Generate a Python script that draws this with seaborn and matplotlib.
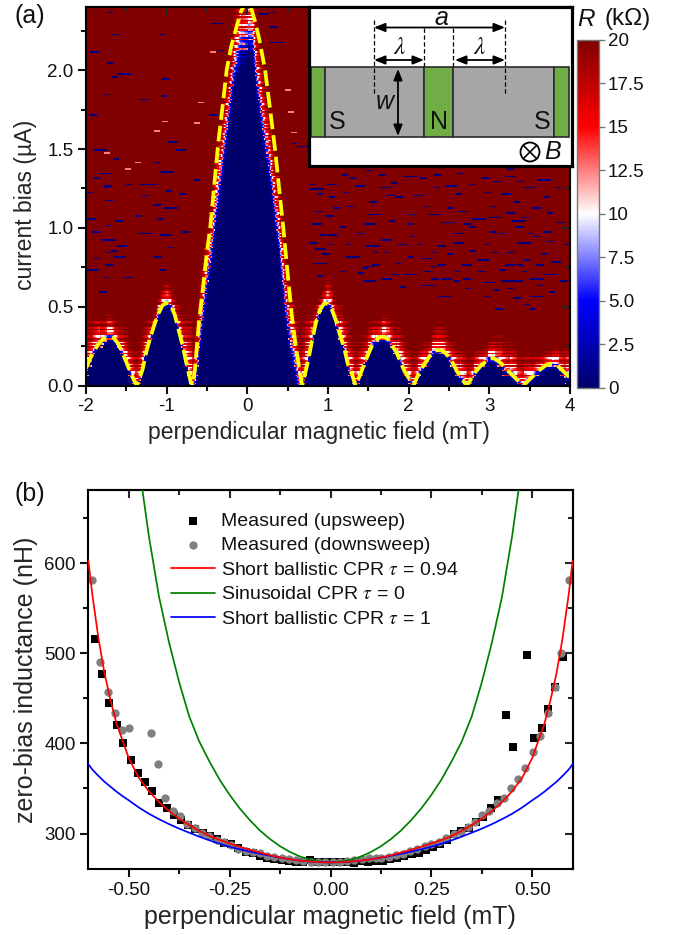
import numpy as np
import pandas as pd
import matplotlib
matplotlib.use("Agg")
import matplotlib.pyplot as plt
from matplotlib.colors import LinearSegmentedColormap
from matplotlib.patches import Rectangle, Circle
from matplotlib.ticker import MultipleLocator
import seaborn as sns

# ---------- panel (a): values ----------
fit_field = [-2.00,-1.95,-1.90,-1.85,-1.80,-1.75,-1.70,-1.65,-1.60,-1.55,-1.50,-1.45,-1.40,-1.37,
             -1.30,-1.25,-1.20,-1.15,-1.10,-1.05,-1.00,-.95,-.90,-.85,-.80,-.75,-.70,-.68,
             -.65,-.60,-.55,-.50,-.46,-.36,-.30,-.256,-.20,-.13,-.08,-.03,.02,.054,.10,.15,.22,.28,.343,.40,.446,.49,.55,.60,.66,.68,
             .75,.80,.85,.90,.95,1.00,1.05,1.10,1.15,1.20,1.25,1.30,1.34,
             1.40,1.45,1.50,1.55,1.60,1.65,1.70,1.75,1.80,1.85,1.90,1.95,2.00,2.06,
             2.10,2.15,2.20,2.25,2.30,2.35,2.40,2.45,2.50,2.55,2.60,2.65,2.72,
             2.76,2.80,2.90,2.95,3.00,3.05,3.10,3.15,3.20,3.30,3.42,
             3.50,3.60,3.70,3.75,3.85,3.95,4.00]
fit_current = [.11,.17,.22,.26,.29,.305,.31,.30,.265,.21,.15,.085,.03,.0,
               .10,.22,.31,.39,.46,.51,.525,.51,.45,.35,.25,.13,.02,.0,
               .10,.40,.62,.85,1.0,1.54,1.80,2.0,2.15,2.28,2.37,2.42,2.44,2.38,2.30,2.19,2.0,1.76,1.5,1.22,1.0,.76,.45,.25,.06,.0,
               .15,.28,.40,.48,.52,.52,.48,.41,.32,.24,.13,.07,.0,
               .07,.14,.20,.26,.29,.31,.31,.29,.25,.21,.15,.09,.05,.0,
               .05,.10,.14,.18,.21,.225,.225,.21,.18,.14,.09,.05,.0,
               .03,.07,.13,.15,.17,.175,.16,.14,.11,.06,.0,
               .04,.09,.13,.14,.125,.075,.05]

core_field = [-.68,-.60,-.50,-.42,-.30,-.18,-.07,.0,.07,.12,.26,.38,.43,.55,.66]
core_current = [0,.30,.73,1.0,1.5,2.0,2.24,2.28,2.24,2.0,1.5,1.0,.73,.30,0]

band_field = [-2,-1.7,-1.38,-1,-.75,.75,1,1.34,1.7,2.06,2.4,2.72,3.15,3.45,4]
band_current = [.38,.47,.22,.67,.40,.40,.68,.25,.47,.20,.38,.18,.32,.17,.27]

fleck_field = [.90,1.05,1.31,1.56,1.58,1.05,.88,1.11,1.71,1.81,1.87,2.12,2.22,2.31,2.35,2.35,2.62,2.68,2.99,3.11,
               3.07,3.05,3.44,3.71,3.50,3.26,2.74,2.62,3.05,3.42,2.97,2.41,2.31,1.93,2.04,1.73,1.56,1.73,1.60,1.86,
               2.22,2.31,2.22,1.73,2.74,2.45,2.60,2.91,3.17,3.26,3.07,3.26,3.59,3.52,3.13,3.26,3.01,3.46,3.71,3.87,
               3.59,3.75,3.63,1.27,.94,1.05,1.02,.98,.90,.90,1.41,1.41,1.52,1.25,.81,.86,2.02,2.49,2.80,3.38,
               3.67,2.72,2.51,2.41,2.02,2.60,2.33,3.09,3.34,3.42,3.63,3.83,
               .81,.86,1.21,1.52,1.67,1.40,1.23,1.77,2.02,2.18,2.47,2.64,2.53,2.80,2.95,3.26,3.38,3.67,3.85,3.21,
               3.34,3.59,3.75,3.26,2.88,2.51,2.04,1.79,1.52,1.19,1.02,.90,1.60,1.31,1.46,1.83,2.14,2.62,2.80,3.15,
               3.36,3.50,3.75,3.96,2.92,3.38,2.72,2.47,1.93,2.24,2.97,3.34,3.46,3.21,3.77,3.92,3.59,2.02,1.52,1.19,
               -1.75,-1.75,-1.71,-1.94,-1.73,-1.71,-1.73,-1.71,-1.46,-1.17,-.97,-1.13,-.95,-1.34,-1.59,-1.09,-1.01,-.95,-1.11,-1.55,
               -1.88,-1.92,-1.75,-1.79,-1.05,-1.48,-.80,-.76,-1.26,-1.86,-1.96,-1.65,-1.57,-1.26,-1.88,
               -1.89,-1.70,-1.52,-1.64,-1.02,-1.04,-1.27,-1.74,-1.91,-1.83,-1.70,-1.62,-1.06,-.38,-.32,-.42,-.92,-1.12,-1.0,-1.62,-1.72,-1.29,-.83,-.63,.32,.36,.30,.2,.57,.69]
fleck_current = [1.21,1.27,1.31,1.16,1.08,1.19,1.10,1.12,1.25,1.28,1.19,1.20,1.13,1.08,1.25,1.33,1.21,1.10,1.22,1.29,
                 1.06,1.13,1.06,1.19,1.25,1.37,1.02,.96,.97,.90,.89,.88,.84,.89,.94,.92,.88,.84,.76,.77,
                 .80,.75,.72,.67,.61,.56,.66,.72,.73,.76,.84,.84,.56,.48,.48,.61,.65,.79,.97,1.03,
                 .94,.70,.63,1.13,.95,.95,.89,.83,.77,.69,.96,.71,.66,.89,.90,1.02,1.02,1.03,1.00,1.00,
                 .83,.76,.83,.76,.70,.72,.67,.60,.66,.72,.76,.78,
                 1.27,1.24,1.33,1.36,1.33,1.26,1.22,1.20,1.32,1.31,1.38,1.34,1.26,1.27,1.31,1.32,1.29,1.30,1.25,1.21,
                 1.16,1.12,1.09,1.09,1.05,1.12,1.08,1.04,1.02,1.00,1.07,.86,.84,.81,.74,.70,.89,.90,.85,.96,
                 1.04,.96,.91,.89,.79,.76,.67,.67,.62,.63,.56,.55,.51,.66,.59,.66,.67,.81,.75,.72,
                 1.34,1.25,1.17,1.05,1.01,.92,.84,.76,1.27,1.27,1.23,1.14,1.12,1.07,1.04,1.05,.95,.87,.81,.88,
                 .80,.73,.68,.59,.73,.68,1.21,.97,.96,1.31,1.22,.85,.81,1.20,.97,
                 2.11,2.04,1.97,1.95,1.94,1.83,1.81,1.84,1.71,1.49,2.36,2.22,2.22,2.29,2.12,1.71,1.54,1.41,1.35,1.43,1.26,1.27,1.49,1.30,2.27,2.17,2.36,2.35,1.53,1.51]
fleck_halfwidth = [3,5,3,4,7,3,4,3,6,3,4,5,3,7,3,4]

pale_field = [-.42,.50,.54,.58,-.57,-.63,-1.74,-1.48,-1.35,-1.12,-1.02]
pale_current = [2.11,1.87,1.73,1.60,1.79,1.66,1.47,1.37,1.41,1.61,1.67]

row_streak = [.0,.7,-.5,.4,-.8,.3,.9,-.3,-.6,.5,.1,-.4,.8,-.7,.2,.6,-.2,-.9,.45,-.15,.75,-.55,.25]
col_streak = [.2,-.4,.6,-.1,.35,-.6,.1,.5,-.3,.45,-.5,.0,.3]

cbar_ticks = [0, 2.5, 5, 7.5, 10, 12.5, 15, 17.5, 20]
cbar_labels = ["0", "2.5", "5.0", "7.5", "10", "12.5", "15", "17.5", "20"]

# ---------- panel (b): values ----------
up_field = [-.584,-.566,-.548,-.530,-.513,-.495,-.477,-.459,-.441,-.424,-.406,-.388,-.370,-.352,-.335,-.317,-.299,-.281,-.263,-.246,
            -.228,-.210,-.192,-.174,-.157,-.139,-.121,-.103,-.085,-.068,-.050,-.032,-.014,.004,.021,.039,.057,.075,.093,.111,.129,.147,.165,
            .183,.201,.219,.237,.255,.272,.288,.306,.324,.342,.361,.379,.397,.415,.434,.451,.486,.505,.523,.540,.556,.575]
up_nH = [516,477,445,420,401,382,367,357,347,334,328,321,315,309,305,301,297,294,290,288,
         284,280,278,275,273,272,271,270,269,268,271,269,268,268,268,268,267,270,269,270,270,272,273,
         275,277,279,282,285,289,293,299,303,306,313,318,328,337,431,396,498,406,417,438,463,496]

down_field = [-.590,-.570,-.552,-.533,-.516,-.498,-.445,-.427,-.409,-.391,-.373,-.355,-.336,-.318,-.300,-.282,-.264,-.246,-.229,-.210,-.192,-.174,-.157,
              -.139,-.121,-.103,-.085,-.067,-.049,-.031,-.013,.005,.023,.041,.059,.077,.095,.113,.125,.144,.162,.179,.197,.215,.233,.250,.268,.287,.305,.323,.341,.359,.376,.393,.412,.429,.446,.464,.482,.501,.519,.538,.555,.572,.590]
down_nH = [581,490,457,434,415,417,411,377,339,325,319,311,306,301,297,293,291,287,283,281,280,278,275,
           274,273,272,271,270,269,268,268,268,269,270,271,272,273,273,273,274,276,277,281,283,286,289,291,295,300,302,307,313,321,325,334,340,350,361,373,390,408,434,463,500,581]

fit_field_half = [0,.025,.05,.075,.1,.125,.15,.175,.2,.225,.25,.275,.3,.325,.35,.375,.4,.425,.45,.475,.5,.515,.53,.545,.56,.575,.59,.6]
red_half = [268,268.3,269,270,271.5,273.5,276,279,282,285.5,289,293,297.5,303,309.5,316.5,325,335,347,362,384,403,422,448,478,517,565,603]
blue_half = [268,268.3,269,270,271.5,273.3,275.5,277.6,280,282.6,285.5,288.8,292.5,296.6,301,305.5,310.5,316,322,329,337,341.5,346.5,352,357.5,364,371,377]
green_half = [268,269,271,274.5,279.5,286,294,303.5,315,328,343,360,380,402,430,468,512,563,630,710,800,860,920,980,1040,1100,1160,1200]

x_ticks_b = [-.5, -.25, 0, .25, .5]
x_labels_b = ["-0.50", "-0.25", "0.00", "0.25", "0.50"]

# ---------- style ----------
sns.set_theme(style="ticks")
plt.rcParams["font.family"] = ["Liberation Sans", "DejaVu Sans"]
plt.rcParams["mathtext.fontset"] = "stix"
plt.rcParams["axes.linewidth"] = 1.5
plt.rcParams["text.color"] = "#111111"

W, H = 683, 935
fig = plt.figure(figsize=(W / 100, H / 100), dpi=100, facecolor="white")


def px_rect(left, top, right, bottom):
    return [left / W, 1 - bottom / H, (right - left) / W, (bottom - top) / H]


TICK = 13.5

# ---------- build the map from the read boundaries ----------
cols = np.linspace(-2, 4, 481)
cols = (cols[:-1] + cols[1:]) / 2
rows = np.linspace(0, 2.4, 241)
rows = (rows[:-1] + rows[1:]) / 2
edge = np.interp(cols, fit_field, fit_current) + .015
central = np.abs(cols) < .68
edge[central] = np.interp(cols[central], core_field, core_current)
ceil_ = np.interp(cols, band_field, band_current)
up_w = np.where(central, .30, np.maximum(ceil_ - edge, .06))
low_w = np.where(central, .20, .055)

streak_r = np.array([row_streak[i % len(row_streak)] for i in range(len(rows))])
streak_c = np.array([col_streak[(i // 7) % len(col_streak)] for i in range(len(cols))])
offs = np.add.outer(streak_r, .6 * streak_c)
d = rows[:, None] - edge[None, :]
t_up = d / up_w + .45 * offs
t_low = d / low_w + .3 * offs
R = np.where(t_up >= 0,
             10 + 10 * np.sqrt(np.clip(t_up, 0, 1)),
             10 * np.clip(1 + t_low, 0, 1) ** 1.4)
R = np.clip(R, 0, 20)

for k, (b, i) in enumerate(zip(fleck_field, fleck_current)):
    c = int(np.searchsorted(cols, b))
    r = int(np.searchsorted(rows, i))
    hw = fleck_halfwidth[k % len(fleck_halfwidth)]
    R[r, max(c - hw, 0):c + hw] = .8
for b, i in zip(pale_field, pale_current):
    c = int(np.searchsorted(cols, b))
    r = int(np.searchsorted(rows, i))
    R[r, c - 3:c + 3] = 12.5

cmap = LinearSegmentedColormap.from_list(
    "map", [(0, "#00006c"), (.25, "#0000ff"), (.5, "#ffffff"), (.75, "#ff0000"), (1, "#800000")])

ax_map = fig.add_axes(px_rect(86, 7, 570, 385.7), zorder=1)
cax = fig.add_axes(px_rect(577, 40, 599, 387.5), zorder=1)
map_df = pd.DataFrame(R[::-1], index=rows[::-1], columns=cols)
sns.heatmap(map_df, ax=ax_map, cmap=cmap, vmin=0, vmax=20, cbar_ax=cax,
            xticklabels=False, yticklabels=False, rasterized=True)
ax_map.set_xlabel("")
ax_map.set_ylabel("")
ax_map.tick_params(left=False, bottom=False)

cb = ax_map.collections[0].colorbar
cb.set_ticks(cbar_ticks)
cb.set_ticklabels(cbar_labels)
cb.outline.set_visible(True)
cb.outline.set_edgecolor("#777777")
cb.outline.set_linewidth(1.0)
cax.tick_params(axis="y", length=4.5, width=1.0, color="#777777", labelsize=TICK, pad=2, labelcolor="#111111")

# overlay axes with the real scales
ax_a = fig.add_axes(px_rect(86, 7, 570, 385.7), zorder=2)
ax_a.patch.set_alpha(0)
sns.lineplot(x=fit_field, y=fit_current, ax=ax_a, color="#ffff00", lw=2.7, sort=False, estimator=None,
             linestyle=(0, (4.2, 1.6)))
ax_a.set_xlim(-2, 4)
ax_a.set_ylim(0, 2.4)


def frame(ax, xmajor, xminor, ymajor, yminor):
    ax.xaxis.set_major_locator(MultipleLocator(xmajor))
    ax.xaxis.set_minor_locator(MultipleLocator(xminor))
    ax.yaxis.set_major_locator(MultipleLocator(ymajor))
    ax.yaxis.set_minor_locator(MultipleLocator(yminor))
    ax.tick_params(which="major", length=6, width=1.5, labelsize=TICK, direction="out", pad=3, colors="#111111")
    ax.tick_params(which="minor", length=3.5, width=1.5, direction="out", colors="#111111")
    for sp in ax.spines.values():
        sp.set_visible(True)
        sp.set_color("black")
    top = ax.secondary_xaxis("top")
    top.xaxis.set_major_locator(MultipleLocator(xmajor))
    top.xaxis.set_minor_locator(MultipleLocator(xminor))
    top.tick_params(which="major", length=6, width=1.5, direction="in", labeltop=False)
    top.tick_params(which="minor", length=3.5, width=1.5, direction="in")
    right = ax.secondary_yaxis("right")
    right.yaxis.set_major_locator(MultipleLocator(ymajor))
    right.yaxis.set_minor_locator(MultipleLocator(yminor))
    right.tick_params(which="major", length=6, width=1.5, direction="in", labelright=False)
    right.tick_params(which="minor", length=3.5, width=1.5, direction="in")


frame(ax_a, 1, .5, .5, .25)
ax_a.set_xticks([-2, -1, 0, 1, 2, 3, 4])
ax_a.set_xticklabels(["-2", "-1", "0", "1", "2", "3", "4"])
ax_a.set_yticks([0, .5, 1, 1.5, 2])
ax_a.set_yticklabels(["0.0", "0.5", "1.0", "1.5", "2.0"])


def place_labels(ax, xl, yl, xpos, ypos, size):
    ax.set_xlabel(xl, fontsize=size, va="center", ha="center")
    ax.set_ylabel(yl, fontsize=size, va="center", ha="center", rotation=90)
    ax.xaxis.set_label_coords(xpos[0] / W, 1 - xpos[1] / H, transform=fig.transFigure)
    ax.yaxis.set_label_coords(ypos[0] / W, 1 - ypos[1] / H, transform=fig.transFigure)


place_labels(ax_a, "perpendicular magnetic field (mT)", "current bias (µA)", (319, 433), (26, 205), 16.6)
fig.text(14 / W, 1 - 16 / H, "(a)", fontsize=18, va="center", ha="left", color="#111111")
fig.text(577 / W, 1 - 19 / H, "R", fontsize=17.5, style="italic", va="center", ha="left", color="#111111")
fig.text(604 / W, 1 - 19 / H, "(kΩ)", fontsize=17.5, va="center", ha="left", color="#111111")

# ---------- schematic inset, in pixel units ----------
ax_in = fig.add_axes(px_rect(308.5, 7, 571.5, 166), zorder=3)
ax_in.set_xlim(308.5, 571.5)
ax_in.set_ylim(166, 7)
ax_in.set_xticks([])
ax_in.set_yticks([])
ax_in.set_facecolor("white")
for sp in ax_in.spines.values():
    sp.set_linewidth(2.3)
    sp.set_color("black")
GREEN, GREY, EDGE = "#70ad47", "#a6a6a6", "#2b2b2b"
for l, r, c in [(311, 325, GREEN), (325, 424, GREY), (424, 453, GREEN), (453, 554, GREY), (554, 569, GREEN)]:
    ax_in.add_patch(Rectangle((l, 66.5), r - l, 70.5, fc=c, ec=EDGE, lw=1.2))
for x, y0, y1 in [(374, 20, 95), (505, 20, 95), (424, 28, 66), (453, 28, 66)]:
    ax_in.plot([x, x], [y0, y1], color="black", lw=.9, ls=(0, (3.5, 2)))


def arrow(p, q):
    ax_in.annotate("", xy=q, xytext=p,
                   arrowprops=dict(arrowstyle="<|-|>,head_length=.55,head_width=.22", color="black", lw=1.3,
                                   shrinkA=0, shrinkB=0))


arrow((374, 27.5), (505, 27.5))
arrow((374, 60), (424, 60))
arrow((455, 60), (505, 60))
arrow((398, 69), (398, 136))
for x, y, s, kw in [(441, 18, "a", dict(style="italic")), (400, 47, r"$\lambda$", dict()), (480, 47, r"$\lambda$", dict()),
                    (385, 102, "w", dict(style="italic")), (337, 122, "S", dict()), (439, 122, "N", dict()),
                    (542, 122, "S", dict()), (553, 152, "B", dict(style="italic"))]:
    ax_in.text(x, y, s, fontsize=18, ha="center", va="center", color="#111111", **kw)
ax_in.add_patch(Circle((530, 152), 9.5, fc="none", ec="black", lw=1.3))
ax_in.plot([523.3, 536.7], [145.3, 158.7], color="black", lw=1.2)
ax_in.plot([523.3, 536.7], [158.7, 145.3], color="black", lw=1.2)

# ---------- panel (b) ----------
ax_b = fig.add_axes(px_rect(88.3, 490, 572.7, 869.3), zorder=1)
sns.scatterplot(x=up_field, y=up_nH, ax=ax_b, marker="s", s=27, color="black", linewidth=0,
                label="Measured (upsweep)", zorder=2)
sns.scatterplot(x=down_field, y=down_nH, ax=ax_b, marker="o", s=36, color="#808080", linewidth=0,
                label="Measured (downsweep)", zorder=2.1)
left = -np.array(fit_field_half[:0:-1])
fit_x = np.concatenate([left, fit_field_half])


def mirror(v):
    return np.concatenate([np.array(v[:0:-1]), v])


sns.lineplot(x=fit_x, y=mirror(red_half), ax=ax_b, color="#ff0000", lw=1.25, sort=False, estimator=None,
             label=r"Short ballistic CPR $\tau$ = 0.94", zorder=3.2)
sns.lineplot(x=fit_x, y=mirror(green_half), ax=ax_b, color="#008000", lw=1.25, sort=False, estimator=None,
             label=r"Sinusoidal CPR $\tau$ = 0", zorder=3)
sns.lineplot(x=fit_x, y=mirror(blue_half), ax=ax_b, color="#0000ff", lw=1.25, sort=False, estimator=None,
             label=r"Short ballistic CPR $\tau$ = 1", zorder=3.1)
ax_b.set_xlim(-.6, .6)
ax_b.set_ylim(260.4, 681)
frame(ax_b, .25, .125, 100, 50)
ax_b.set_xticks(x_ticks_b)
ax_b.set_xticklabels(x_labels_b)
ax_b.set_yticks([300, 400, 500, 600])
place_labels(ax_b, "perpendicular magnetic field (mT)", "zero-bias inductance (nH)", (330, 917), (26, 680), 18)
fig.text(14 / W, 1 - 494 / H, "(b)", fontsize=18, va="center", ha="left", color="#111111")
leg = ax_b.legend(loc="upper left", bbox_to_anchor=(171 / W, 1 - 512 / H), bbox_transform=fig.transFigure,
                  frameon=False, fontsize=14, borderpad=0, borderaxespad=0, handlelength=2.25,
                  handletextpad=.33, labelspacing=.36)
for txt in leg.get_texts():
    txt.set_color("#111111")

fig.savefig("out.png", dpi=100)
